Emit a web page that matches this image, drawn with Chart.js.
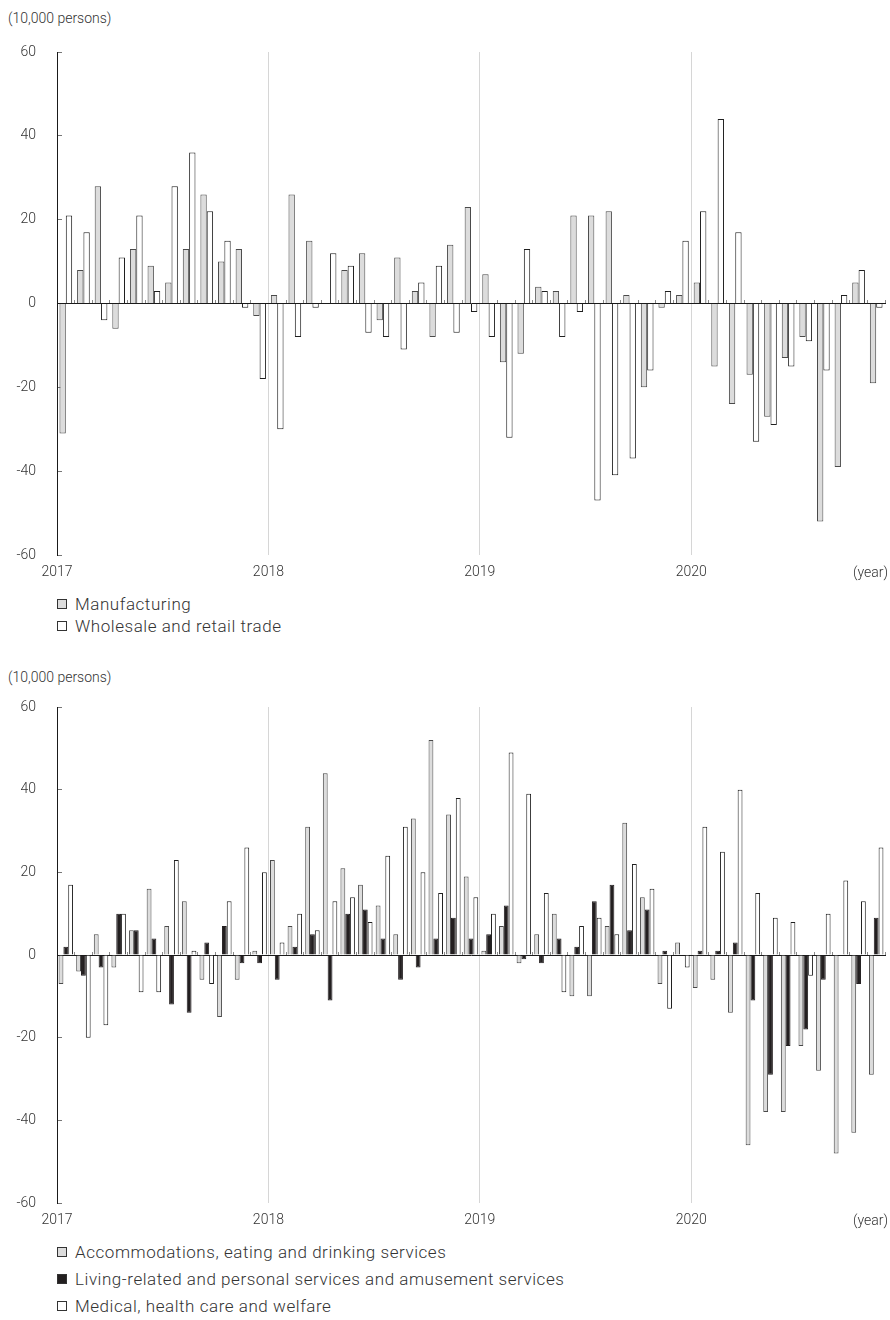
<!DOCTYPE html>
<html><head><meta charset="utf-8">
<script src="https://cdn.jsdelivr.net/npm/chart.js@4.4.0/dist/chart.umd.min.js"></script>
<style>
body{margin:0;background:#fff;width:890px;height:1320px;position:relative;font-family:Roboto,"Liberation Sans",sans-serif;font-weight:300;color:#333;overflow:hidden;}
.unit{position:absolute;left:8px;font-size:14px;line-height:16px;}
.wrap{position:absolute;left:0;width:890px;}
.yearunit{position:absolute;right:2px;font-size:14px;line-height:16px;}
.legend{position:absolute;left:57px;font-size:17px;letter-spacing:0.55px;}
.legend .item{display:flex;align-items:center;}
.legend .sw{width:8px;height:8px;border:1px solid #333;margin-right:8px;}
</style></head>
<body>
<div class="unit" style="top:10px">(10,000 persons)</div>
<div class="wrap" style="top:30px;height:555px"><canvas id="c1" width="890" height="555"></canvas></div>
<div class="yearunit" style="top:564px">(year)</div>
<div class="legend" id="lg1" style="top:593px"></div>

<div class="unit" style="top:669px">(10,000 persons)</div>
<div class="wrap" style="top:685px;height:548px"><canvas id="c2" width="890" height="548"></canvas></div>
<div class="yearunit" style="top:1212px">(year)</div>
<div class="legend" id="lg2" style="top:1238px"></div>

<script>
// ---------- categories & tick labels ----------
const years = ['2017', '2018', '2019', '2020'];
const monthNums = ['01','02','03','04','05','06','07','08','09','10','11','12'];
const months = [];
years.forEach(y => monthNums.forEach(m => months.push(y + '-' + m)));
months.length = 47; // Jan 2017 - Nov 2020
const yearTickIndex = [0, 12, 24, 36];
const yearTickLabels = ['2017', '2018', '2019', '2020'];
const yTicks = [-60, -40, -20, 0, 20, 40, 60];

// ---------- top chart series (10,000 persons) ----------
const manufacturing = [
  -31, 8, 28, -6, 13, 9, 5, 13, 26, 10, 13, -3,
  2, 26, 15, 0, 8, 12, -4, 11, 3, -8, 14, 23,
  7, -14, -12, 4, 3, 21, 21, 22, 2, -20, -1, 2,
  5, -15, -24, -17, -27, -13, -8, -52, -39, 5, -19
];
const wholesaleRetail = [
  21, 17, -4, 11, 21, 3, 28, 36, 22, 15, -1, -18,
  -30, -8, -1, 12, 9, -7, -8, -11, 5, 9, -7, -2,
  -8, -32, 13, 3, -8, -2, -47, -41, -37, -16, 3, 15,
  22, 44, 17, -33, -29, -15, -9, -16, 2, 8, -1
];

// ---------- bottom chart series ----------
const accommodations = [
  -7, -4, 5, -3, 6, 16, 7, 13, -6, -15, -6, 1,
  23, 7, 31, 44, 21, 17, 12, 5, 33, 52, 34, 19,
  1, 7, -2, 5, 10, -10, -10, 7, 32, 14, -7, 3,
  -8, -6, -14, -46, -38, -38, -22, -28, -48, -43, -29
];
const livingRelated = [
  2, -5, -3, 10, 6, 4, -12, -14, 3, 7, -2, -2,
  -6, 2, 5, -11, 10, 11, 4, -6, -3, 4, 9, 4,
  5, 12, -1, -2, 4, 2, 13, 17, 6, 11, 1, 0,
  1, 1, 3, -11, -29, -22, -18, -6, 0, -7, 9
];
const medical = [
  17, -20, -17, 10, -9, -9, 23, 1, -7, 13, 26, 20,
  3, 10, 6, 13, 14, 8, 24, 31, 20, 15, 38, 14,
  10, 49, 39, 15, -9, 7, 9, 5, 22, 16, -13, -3,
  31, 25, 40, 15, 9, 8, -5, 10, 18, 13, 26
];

Chart.defaults.font.family = "Roboto, 'Liberation Sans', sans-serif";
Chart.defaults.font.weight = '300';
Chart.defaults.font.size = 14;
Chart.defaults.color = '#333';

function makeChart(id, datasets, catPct) {
  return new Chart(document.getElementById(id), {
    type: 'bar',
    data: { labels: months, datasets: datasets },
    options: {
      responsive: false, animation: false,
      layout: { padding: { top: 22, right: 5, left: 0, bottom: 0 } },
      plugins: { legend: { display: false }, tooltip: { enabled: false } },
      datasets: { bar: { categoryPercentage: catPct, barPercentage: 1, borderWidth: 1, borderSkipped: 'start' } },
      scales: {
        x: {
          type: 'category', position: { y: 0 }, offset: true,
          grid: { offset: true, drawOnChartArea: false, drawTicks: true, tickLength: -4, tickColor: '#8a8a8a', tickWidth: 1 },
          border: { display: true, color: '#1a1a1a', width: 1 },
          ticks: { display: false },
          afterFit: s => { s.height = 0; }
        },
        xYear: {
          type: 'linear', position: 'bottom', min: 0, max: months.length, offset: false,
          afterBuildTicks: s => { s.ticks = yearTickIndex.map(v => ({ value: v })); },
          ticks: { autoSkip: false, maxRotation: 0, padding: 9,
                   callback: v => yearTickLabels[yearTickIndex.indexOf(v)] },
          grid: { offset: false, color: c => (c.tick && c.tick.value > 0) ? '#d6d6d6' : 'rgba(0,0,0,0)', drawTicks: false, lineWidth: 1 },
          border: { display: false },
          afterFit: s => { s.height = 30; s.paddingLeft = 0; s.paddingRight = 0; }
        },
        y: {
          min: -60, max: 60,
          afterBuildTicks: s => { s.ticks = yTicks.map(v => ({ value: v })); },
          ticks: { padding: 26 },
          grid: { drawOnChartArea: false, drawTicks: true, tickLength: -5, tickColor: '#777' },
          border: { display: true, color: '#1a1a1a', width: 1 },
          afterFit: s => { s.width = 57; s.paddingTop = 8; s.paddingBottom = 8; }
        }
      }
    }
  });
}

const ch1 = makeChart('c1', [
  { label: 'Manufacturing', data: manufacturing, xAxisID: 'x', backgroundColor: '#dcdcdc', borderColor: '#4a4a4a' },
  { label: 'Wholesale and retail trade', data: wholesaleRetail, xAxisID: 'x', backgroundColor: '#ffffff', borderColor: '#1f1f1f' }
], 0.72);

const ch2 = makeChart('c2', [
  { label: 'Accommodations, eating and drinking services', data: accommodations, xAxisID: 'x', backgroundColor: '#dcdcdc', borderColor: '#4a4a4a' },
  { label: 'Living-related and personal services and amusement services', data: livingRelated, xAxisID: 'x', backgroundColor: '#231f20', borderColor: '#231f20' },
  { label: 'Medical, health care and welfare', data: medical, xAxisID: 'x', backgroundColor: '#ffffff', borderColor: '#1f1f1f' }
], 0.82);

function buildLegend(chart, el, rowH) {
  chart.data.datasets.forEach(ds => {
    const it = document.createElement('div');
    it.className = 'item';
    it.style.height = rowH + 'px';
    const sw = document.createElement('span');
    sw.className = 'sw';
    sw.style.background = ds.backgroundColor;
    sw.style.borderColor = '#333';
    const tx = document.createElement('span');
    tx.textContent = ds.label;
    it.appendChild(sw); it.appendChild(tx);
    el.appendChild(it);
  });
}
buildLegend(ch1, document.getElementById('lg1'), 22);
buildLegend(ch2, document.getElementById('lg2'), 27);
</script>
</body></html>
